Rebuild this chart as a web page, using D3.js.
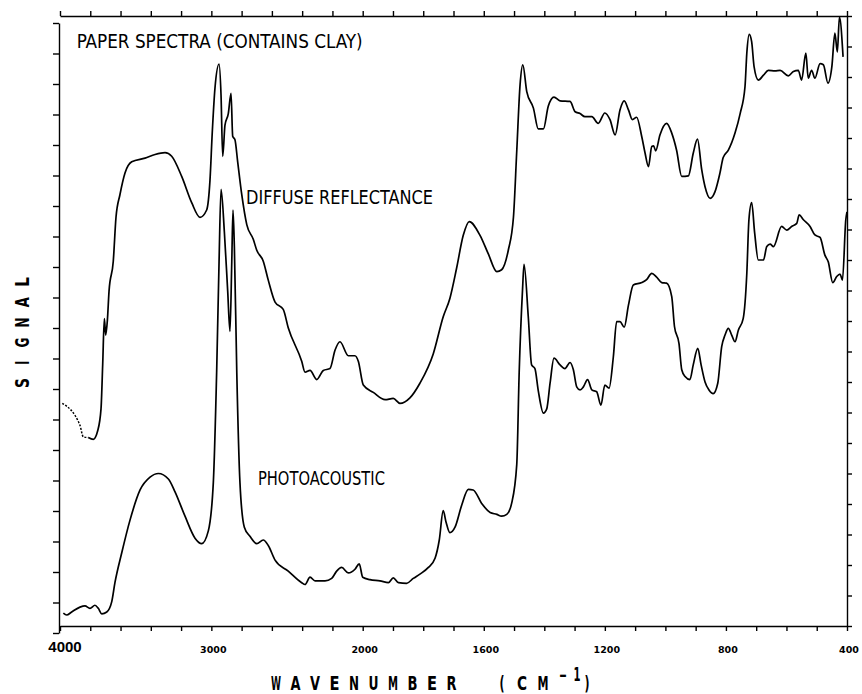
<!DOCTYPE html>
<html>
<head>
<meta charset="utf-8">
<script src="https://cdn.jsdelivr.net/npm/d3@7"></script>
<style>
  html, body { margin: 0; padding: 0; background: #fff; }
  svg { display: block; }
  .axis path, .axis line { stroke: #000; stroke-width: 1.4; }
</style>
</head>
<body>
<div id="chart"></div>
<script>
// Paper spectra (contains clay): wavenumber (cm-1) vs signal (arbitrary, 0-100 full scale)

const diffuseReflectance = [
  [3985,36.5],[3868,32.9],[3846,31.0],[3813,30.9],[3780,30.6],[3751,32.0],[3729,35.6],[3718,42.8],
  [3707,50.4],[3698,47.7],[3687,50.1],[3676,54.9],[3648,59.8],[3630,67.0],[3604,70.7],[3570,74.3],
  [3526,76.1],[3438,76.7],[3372,77.3],[3306,77.6],[3262,77.0],[3196,73.7],[3130,69.4],[3075,67.0],
  [3031,68.2],[3009,73.1],[2994,80.9],[2976,88.2],[2949,92.1],[2936,87.0],[2925,77.0],[2910,82.1],
  [2888,84.0],[2870,87.3],[2859,80.3],[2844,79.7],[2826,76.1],[2799,70.7],[2766,65.8],[2723,63.4],
  [2700,61.6],[2657,59.8],[2624,56.7],[2579,53.1],[2525,51.9],[2492,48.9],[2403,43.4],[2381,41.6],
  [2348,41.9],[2304,40.4],[2260,41.9],[2216,42.2],[2183,45.2],[2150,46.6],[2095,44.3],[2051,44.3],
  [2029,43.4],[1998,39.5],[1965,38.3],[1926,37.1],[1899,37.3],[1877,36.5],[1844,37.4],[1811,39.8],
  [1767,44.6],[1734,50.7],[1712,53.7],[1690,58.6],[1668,64.0],[1648,66.3],[1612,64.0],[1585,61.0],
  [1557,58.1],[1541,58.4],[1519,61.6],[1502,67.0],[1491,77.9],[1480,88.8],[1471,92.0],[1458,87.6],
  [1436,84.9],[1420,81.5],[1403,81.5],[1387,85.2],[1368,86.7],[1348,86.1],[1315,86.0],[1298,84.3],
  [1282,84.0],[1266,83.5],[1243,83.5],[1222,82.4],[1200,84.1],[1183,83.0],[1166,80.5],[1150,84.6],
  [1136,86.1],[1122,84.6],[1109,83.0],[1095,83.4],[1078,80.2],[1067,77.5],[1056,75.3],[1045,78.6],
  [1039,78.7],[1032,77.9],[1018,80.5],[996,82.4],[979,80.8],[963,78.0],[946,73.7],[924,73.8],
  [908,77.5],[894,79.8],[880,74.8],[869,72.0],[852,70.1],[836,71.2],[820,74.2],[809,76.8],
  [792,78.0],[770,80.8],[753,84.0],[737,88.4],[731,93.9],[723,97.0],[715,95.8],[707,91.7],
  [693,89.5],[676,90.3],[660,91.1],[638,91.0],[621,91.1],[594,90.2],[577,90.9],[561,91.1],
  [550,89.5],[536,93.9],[528,89.8],[517,91.1],[506,89.8],[489,92.2],[478,92.0],[463,89.0],
  [450,91.7],[440,97.2],[432,94.1],[425,99.8],[413,93.3]
];

const photoacoustic = [
  [3978,2.1],[3956,1.8],[3923,2.3],[3868,3.1],[3835,3.3],[3802,2.9],[3769,3.4],[3747,2.9],
  [3724,2.0],[3691,2.3],[3658,4.0],[3637,7.1],[3592,12.0],[3537,17.4],[3471,22.3],[3405,24.4],
  [3350,25.0],[3284,24.1],[3240,22.0],[3174,18.0],[3108,14.4],[3064,13.5],[3020,15.6],[2987,23.5],
  [2965,41.6],[2949,59.8],[2936,71.6],[2914,64.6],[2892,54.9],[2877,48.3],[2865,59.8],[2857,68.2],
  [2848,62.2],[2832,41.6],[2811,23.5],[2782,16.2],[2745,14.7],[2700,13.5],[2657,14.1],[2624,13.2],
  [2579,10.8],[2492,9.0],[2403,7.1],[2381,6.8],[2348,8.0],[2315,7.4],[2249,7.4],[2205,7.8],
  [2172,9.0],[2139,9.6],[2095,8.7],[2051,9.3],[2023,10.2],[2000,8.0],[1976,7.6],[1943,7.4],
  [1915,7.1],[1899,7.9],[1882,7.1],[1855,7.0],[1833,7.8],[1811,8.5],[1783,9.6],[1761,11.1],
  [1747,14.1],[1734,18.9],[1725,17.1],[1712,15.3],[1695,16.2],[1673,19.8],[1651,22.4],[1635,22.3],
  [1607,20.1],[1579,18.6],[1557,18.3],[1541,18.0],[1524,18.3],[1508,20.1],[1491,26.5],[1483,41.6],
  [1472,55.1],[1467,59.3],[1453,50.7],[1442,42.8],[1431,42.2],[1420,38.6],[1403,34.9],[1392,35.6],
  [1381,39.8],[1368,43.9],[1348,42.8],[1332,42.2],[1315,43.2],[1304,42.0],[1293,39.2],[1282,38.7],
  [1271,39.2],[1257,40.4],[1243,38.7],[1227,38.4],[1213,36.2],[1200,39.5],[1186,39.0],[1172,44.1],
  [1161,49.9],[1150,49.9],[1136,49.0],[1122,52.6],[1106,55.9],[1078,56.3],[1062,56.8],[1045,57.8],
  [1029,57.2],[1012,56.3],[996,56.2],[979,54.0],[970,49.1],[955,46.3],[946,42.0],[935,40.9],
  [919,40.4],[908,42.8],[893,45.5],[882,42.8],[869,40.0],[856,38.7],[842,38.1],[827,39.8],
  [814,45.8],[803,47.7],[792,48.8],[781,47.7],[770,46.6],[759,48.5],[743,50.4],[731,57.8],
  [724,66.6],[715,69.4],[705,64.4],[693,60.0],[676,60.0],[665,62.2],[654,62.6],[643,62.2],
  [616,65.5],[599,64.9],[583,65.5],[566,66.0],[558,67.4],[544,66.6],[522,65.5],[506,64.1],
  [489,63.7],[473,60.8],[462,59.7],[447,56.3],[434,57.3],[423,57.7],[415,56.7],[404,66.6],
  [400,67.9]
];

// x ticks: every 200 above 2000 cm-1, every 100 below (scale doubles at 2000)
const xTicksHigh = d3.range(4000, 2000, -200);
const xTicksLow = d3.range(2000, 399, -100);
const xTickValues = xTicksHigh.concat(xTicksLow);
const xTickLabels = [4000, 3000, 2000, 1600, 1200, 800, 400];
const yTickValues = d3.range(0, 101, 5);

const annotations = [
  { text: "PAPER SPECTRA (CONTAINS CLAY)", w: 3890, v: 94.8, len: 286 },
  { text: "DIFFUSE REFLECTANCE", w: 2771, v: 69.2, len: 187 },
  { text: "PHOTOACOUSTIC", w: 2692, v: 23.1, len: 127 }
];

const W = 862, H = 694;
const svg = d3.select("#chart").append("svg")
    .attr("width", W)
    .attr("height", H)
    .style("font-family", "'DejaVu Sans Condensed', 'DejaVu Sans', sans-serif");

svg.append("rect").attr("width", W).attr("height", H).attr("fill", "#fff");

const x = d3.scaleLinear().domain([4000, 2000, 400]).range([60, 362.7, 847]);
const y = d3.scaleLinear().domain([0, 100]).range([626, 16]);

// Frame / axes
svg.append("g").attr("class", "axis")
    .attr("transform", `translate(0,${y(100)})`)
    .call(d3.axisTop(x).tickValues(xTickValues).tickSize(5).tickSizeOuter(0).tickFormat(""));

svg.append("g").attr("class", "axis")
    .attr("transform", `translate(0,${y(0)})`)
    .call(d3.axisBottom(x).tickValues(xTickValues).tickSize(5).tickSizeOuter(0).tickFormat(""));

svg.append("g").attr("class", "axis")
    .attr("transform", `translate(${x(400)},0)`)
    .call(d3.axisRight(y).tickValues(yTickValues).tickSize(5).tickSizeOuter(0).tickFormat(""));

// left axis on the scanned plot sits slightly lower
svg.append("g").attr("class", "axis")
    .attr("transform", `translate(${x(4000) - 1},7)`)
    .call(d3.axisLeft(y).tickValues(yTickValues).tickSize(6).tickSizeOuter(0).tickFormat(""));

svg.selectAll(".axis text").remove();

// Tick labels
svg.selectAll(".xlabel")
    .data(xTickLabels)
    .enter()
    .append("text")
    .attr("class", "xlabel")
    .attr("x", d => d === 4000 ? x(d) + 5 : x(d) + 2)
    .attr("y", d => d === 4000 ? 652 : 653)
    .attr("text-anchor", "middle")
    .style("font-family", d => d === 4000 ? "'Liberation Sans', Arial, sans-serif" : "'DejaVu Sans', sans-serif")
    .style("font-weight", "bold")
    .style("font-size", d => d === 4000 ? "15px" : "9.5px")
    .text(d => d);

// Axis titles, spaced plotter lettering
const titleChars = ["W","A","V","E","N","U","M","B","E","R"];
svg.selectAll(".xtitle")
    .data(titleChars)
    .enter()
    .append("text")
    .attr("class", "xtitle")
    .attr("x", (d, i) => 276 + i * 19.5)
    .attr("y", 690)
    .attr("text-anchor", "middle")
    .attr("textLength", 10)
    .attr("lengthAdjust", "spacingAndGlyphs")
    .style("font-weight", "bold")
    .style("font-size", "20px")
    .text(d => d);

const unitChars = [
  { c: "(", x: 502, dy: 0, len: 5 }, { c: "C", x: 522, dy: 0, len: 10 }, { c: "M", x: 543, dy: 0, len: 11 },
  { c: "\u2212", x: 563, dy: -8, len: 8 }, { c: "1", x: 577, dy: -9, len: 7 }, { c: ")", x: 587, dy: 0, len: 5 }
];
svg.selectAll(".unit")
    .data(unitChars)
    .enter()
    .append("text")
    .attr("class", "unit")
    .attr("x", d => d.x)
    .attr("y", d => 690 + d.dy)
    .attr("text-anchor", "middle")
    .attr("textLength", d => d.len)
    .attr("lengthAdjust", "spacingAndGlyphs")
    .style("font-weight", "bold")
    .style("font-size", "20px")
    .text(d => d.c);

const yTitle = ["S","I","G","N","A","L"];
svg.selectAll(".ytitle")
    .data(yTitle)
    .enter()
    .append("text")
    .attr("class", "ytitle")
    .attr("transform", (d, i) => `translate(29,${383 - i * 20.2}) rotate(-90)`)
    .attr("text-anchor", "middle")
    .attr("textLength", d => d === "I" ? 4 : 10)
    .attr("lengthAdjust", "spacingAndGlyphs")
    .style("font-weight", "bold")
    .style("font-size", "20px")
    .text(d => d);

// In-plot annotations
svg.selectAll(".note")
    .data(annotations)
    .enter()
    .append("text")
    .attr("class", "note")
    .attr("x", d => x(d.w))
    .attr("y", d => y(d.v))
    .attr("textLength", d => d.len)
    .attr("lengthAdjust", "spacingAndGlyphs")
    .style("font-size", "19px")
    .text(d => d.text);

// Spectra
const line = d3.line()
    .x(d => x(d[0]))
    .y(d => y(d[1]))
    .curve(d3.curveMonotoneX);

// start of the reflectance trace is drawn dotted
svg.append("path")
    .datum(diffuseReflectance.filter(d => d[0] >= 3813))
    .attr("fill", "none")
    .attr("stroke", "#000")
    .attr("stroke-width", 1.5)
    .attr("stroke-dasharray", "2,1.5")
    .attr("d", line);

svg.append("path")
    .datum(diffuseReflectance.filter(d => d[0] <= 3813))
    .attr("fill", "none")
    .attr("stroke", "#000")
    .attr("stroke-width", 1.7)
    .attr("stroke-linejoin", "round")
    .attr("d", line);

svg.append("path")
    .datum(photoacoustic)
    .attr("fill", "none")
    .attr("stroke", "#000")
    .attr("stroke-width", 1.7)
    .attr("stroke-linejoin", "round")
    .attr("d", line);
</script>
</body>
</html>
